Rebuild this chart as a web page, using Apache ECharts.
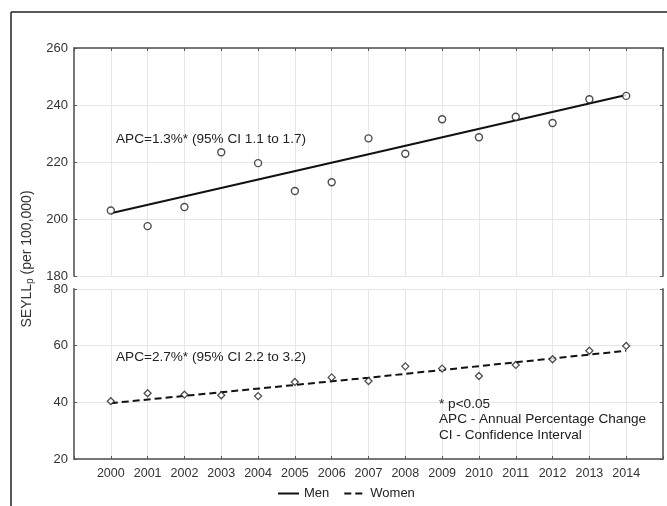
<!DOCTYPE html>
<html>
<head>
<meta charset="utf-8">
<script src="https://cdn.jsdelivr.net/npm/echarts@6/dist/echarts.min.js"></script>
<style>html,body{margin:0;padding:0;background:#fff;}#c{width:667px;height:506px;}</style>
</head>
<body>
<div id="c"></div>
<script>
const years = [2000,2001,2002,2003,2004,2005,2006,2007,2008,2009,2010,2011,2012,2013,2014];
const menValues = [203,197.5,204.2,223.4,219.6,209.8,212.9,228.3,222.9,235,228.7,235.9,233.7,242,243.2];
const womenValues = [40.4,43.2,42.7,42.5,42.2,47.2,48.8,47.5,52.7,51.9,49.3,53.2,55.2,58.2,59.9];
const trendYears = [2000,2007,2014];
const menTrend = [202,222.7,243.5];
const womenTrend = [39.7,48.7,58.2];
const menTicks = [180,200,220,240,260];
const womenTicks = [20,40,60,80];
const menNote = 'APC=1.3%* (95% CI 1.1 to 1.7)';
const womenNote = 'APC=2.7%* (95% CI 2.2 to 3.2)';
const footNotes = ['* p<0.05','APC - Annual Percentage Change','CI - Confidence Interval'];

const FONT = 'Liberation Sans, Arial, sans-serif';
const pairs = (xs, ys) => xs.map((x, i) => [x, ys[i]]);

const axisLineStyle = {show:true, lineStyle:{color:'#777', width:2}};
const tickStyle = {show:true, inside:true, length:3, lineStyle:{color:'#555', width:1}};
const gridLine = {show:true, lineStyle:{color:'#e6e6e6', width:1}};
const yearFmt = v => (v < years[0] || v > years[years.length-1]) ? '' : String(v);

const diamond = 'path://M0,-1L1,0L0,1L-1,0Z';

const chart = echarts.init(document.getElementById('c'), null, {renderer:'canvas'});
chart.setOption({
  animation:false,
  textStyle:{fontFamily:FONT},
  grid:[
    {left:74, top:48, width:589, height:228},
    {left:74, top:289, width:589, height:170}
  ],
  xAxis:[
    {gridIndex:0, type:'value', min:1999, max:2015, interval:1, position:'top',
     axisLine:axisLineStyle, axisTick:tickStyle, axisLabel:{show:false}, splitLine:gridLine},
    {gridIndex:1, type:'value', min:1999, max:2015, interval:1, position:'bottom',
     axisLine:axisLineStyle, axisTick:tickStyle,
     axisLabel:{show:true, formatter:yearFmt, fontSize:12.5, color:'#333', margin:8, fontFamily:FONT},
     splitLine:gridLine}
  ],
  yAxis:[
    {gridIndex:0, type:'value', min:menTicks[0], max:menTicks[menTicks.length-1], interval:menTicks[1]-menTicks[0],
     axisLine:axisLineStyle, axisTick:tickStyle,
     axisLabel:{fontSize:13, color:'#333', margin:6, fontFamily:FONT}, splitLine:gridLine},
    {gridIndex:0, type:'value', position:'right', min:menTicks[0], max:menTicks[menTicks.length-1], interval:menTicks[1]-menTicks[0],
     axisLine:axisLineStyle, axisTick:tickStyle, axisLabel:{show:false}, splitLine:{show:false}},
    {gridIndex:1, type:'value', min:womenTicks[0], max:womenTicks[womenTicks.length-1], interval:womenTicks[1]-womenTicks[0],
     axisLine:axisLineStyle, axisTick:tickStyle,
     axisLabel:{fontSize:13, color:'#333', margin:6, fontFamily:FONT}, splitLine:gridLine},
    {gridIndex:1, type:'value', position:'right', min:womenTicks[0], max:womenTicks[womenTicks.length-1], interval:womenTicks[1]-womenTicks[0],
     axisLine:axisLineStyle, axisTick:tickStyle, axisLabel:{show:false}, splitLine:{show:false}}
  ],
  legend:{
    data:['Men','Women'], left:272, top:482, itemWidth:21, itemHeight:10, itemGap:14,
    itemStyle:{opacity:0},
    textStyle:{fontSize:13, color:'#222', fontFamily:FONT}
  },
  series:[
    {name:'Men', type:'line', xAxisIndex:0, yAxisIndex:0, data:pairs(trendYears, menTrend),
     symbol:'none', lineStyle:{color:'#111', width:2}, itemStyle:{color:'#111'}, z:3},
    {name:'Men points', type:'scatter', xAxisIndex:0, yAxisIndex:0, data:pairs(years, menValues),
     symbol:'circle', symbolSize:7, itemStyle:{color:'#fff', borderColor:'#222', borderWidth:1.4}, z:4},
    {name:'Women', type:'line', xAxisIndex:1, yAxisIndex:2, data:pairs(trendYears, womenTrend),
     symbol:'none', lineStyle:{color:'#111', width:2, type:[7,4]}, itemStyle:{color:'#111'}, z:3},
    {name:'Women points', type:'scatter', xAxisIndex:1, yAxisIndex:2, data:pairs(years, womenValues),
     symbol:diamond, symbolSize:7, itemStyle:{color:'#fff', borderColor:'#222', borderWidth:1.3}, z:4}
  ],
  graphic:[
    {type:'line', z:100, shape:{x1:11, y1:12, x2:667, y2:12}, style:{stroke:'#222', lineWidth:1.5}},
    {type:'line', z:100, shape:{x1:11, y1:12, x2:11, y2:506}, style:{stroke:'#222', lineWidth:1.5}},
    {type:'text', z:100, x:27, y:259, rotation:Math.PI/2,
     style:{text:'{a|SEYLL}{b|p}{a| (per 100,000)}', align:'center', verticalAlign:'middle',
       rich:{a:{fontSize:14, fontFamily:FONT, fill:'#333', lineHeight:18},
             b:{fontSize:10, fontFamily:FONT, fill:'#333', lineHeight:12, padding:[7,0,0,0]}}}},
    {type:'text', z:100, x:116, y:139, style:{text:menNote, fontSize:13.6, fontFamily:FONT, fill:'#222', align:'left', verticalAlign:'middle'}},
    {type:'text', z:100, x:116, y:357, style:{text:womenNote, fontSize:13.6, fontFamily:FONT, fill:'#222', align:'left', verticalAlign:'middle'}},
    {type:'text', z:100, x:439, y:404, style:{text:footNotes[0], fontSize:13.6, fontFamily:FONT, fill:'#222', align:'left', verticalAlign:'middle'}},
    {type:'text', z:100, x:439, y:419.5, style:{text:footNotes[1], fontSize:13.6, fontFamily:FONT, fill:'#222', align:'left', verticalAlign:'middle'}},
    {type:'text', z:100, x:439, y:435, style:{text:footNotes[2], fontSize:13.6, fontFamily:FONT, fill:'#222', align:'left', verticalAlign:'middle'}}
  ]
});
</script>
</body>
</html>
